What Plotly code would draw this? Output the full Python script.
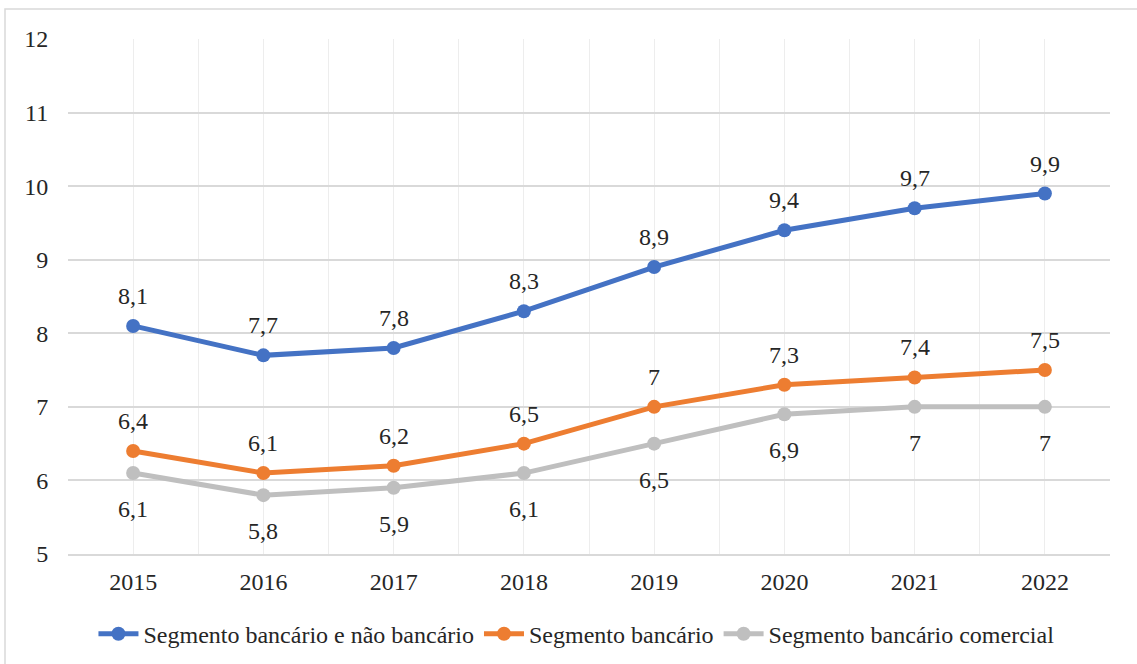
import plotly.graph_objects as go

years = [2015, 2016, 2017, 2018, 2019, 2020, 2021, 2022]
banc_nao_banc = [8.1, 7.7, 7.8, 8.3, 8.9, 9.4, 9.7, 9.9]
bancario = [6.4, 6.1, 6.2, 6.5, 7.0, 7.3, 7.4, 7.5]
bancario_comercial = [6.1, 5.8, 5.9, 6.1, 6.5, 6.9, 7.0, 7.0]

series = [
    ("Segmento bancário e não bancário", banc_nao_banc, "#4472C4", 30),
    ("Segmento bancário", bancario, "#ED7D31", 30),
    ("Segmento bancário comercial", bancario_comercial, "#BFBFBF", -36),
]

FONT = "Times New Roman"
TXT = "#262626"
FS = 24


def fmt(v):
    s = f"{v:.1f}".rstrip("0").rstrip(".")
    return s.replace(".", ",")


fig = go.Figure()
annotations = []
for name, vals, color, shift in series:
    fig.add_trace(go.Scatter(
        x=years, y=vals, name=name, mode="lines+markers",
        line=dict(color=color, width=5),
        marker=dict(color=color, size=14),
    ))
    for x, v in zip(years, vals):
        annotations.append(dict(
            x=x, y=v, text=fmt(v), showarrow=False, yshift=shift,
            font=dict(family=FONT, size=FS, color=TXT),
        ))

fig.update_layout(
    width=1137, height=664,
    margin=dict(l=68, r=27, t=39, b=110),
    plot_bgcolor="white", paper_bgcolor="white",
    font=dict(family=FONT, size=FS, color=TXT),
    showlegend=True,
    legend=dict(
        orientation="h", xref="container", x=0.507, xanchor="center",
        yref="container", y=0.045, yanchor="middle",
        font=dict(family=FONT, size=FS, color=TXT),
        itemwidth=40, tracegroupgap=0, traceorder="normal",
    ),
    annotations=annotations,
    xaxis=dict(
        range=[2014.5, 2022.5], tickvals=years, ticktext=[str(y) for y in years],
        showgrid=True, gridcolor="#EDEDED", gridwidth=1,
        minor=dict(dtick=1, tick0=2014.5, showgrid=True, gridcolor="#EDEDED", gridwidth=1),
        zeroline=False, showline=True, linecolor="#D9D9D9", linewidth=1.5,
        ticks="outside", ticklen=5, tickcolor="rgba(0,0,0,0)",
        tickfont=dict(family=FONT, size=FS, color=TXT),
        fixedrange=True,
    ),
    yaxis=dict(
        range=[5, 12], dtick=1, showgrid=True, gridcolor="#D9D9D9", gridwidth=1.5,
        zeroline=False, showline=False,
        ticks="outside", ticklen=14, tickcolor="rgba(0,0,0,0)",
        tickfont=dict(family=FONT, size=FS, color=TXT),
        fixedrange=True,
    ),
    shapes=[dict(
        type="rect", xref="paper", yref="paper",
        x0=(5 - 68) / 1042, x1=1.05, y0=-0.25, y1=1 + 30 / 515,
        line=dict(color="#D9D9D9", width=1.5), fillcolor="rgba(0,0,0,0)",
        layer="below",
    )],
)

fig.write_html("out.html")
